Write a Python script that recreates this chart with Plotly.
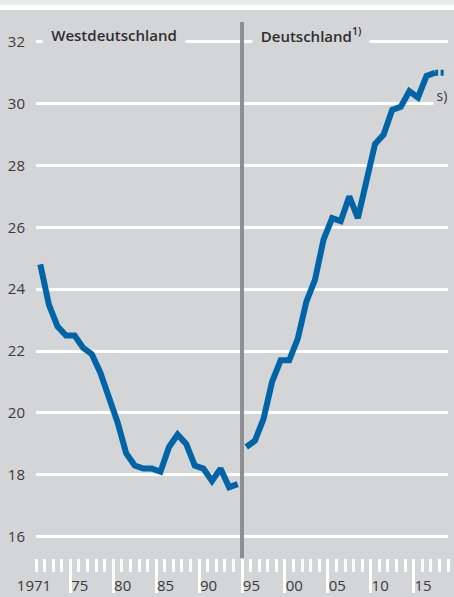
import plotly.graph_objects as go

# ---------------- data ----------------
west_years = list(range(1971, 1995))
west_values = [24.8, 23.5, 22.8, 22.5, 22.5, 22.1, 21.9, 21.3, 20.5, 19.7, 18.7, 18.3,
               18.2, 18.2, 18.1, 18.9, 19.3, 19.0, 18.3, 18.2, 17.8, 18.2, 17.6, 17.7]

de_years = list(range(1995, 2019))
de_values = [18.9, 19.1, 19.8, 21.0, 21.7, 21.7, 22.4, 23.6, 24.3, 25.6, 26.3, 26.2,
             27.0, 26.3, 27.5, 28.7, 29.0, 29.8, 29.9, 30.4, 30.2, 30.9, 31.0, 31.0]
estimated_from = 2017  # last segment is an estimate ("s)")

y_ticks = [16, 18, 20, 22, 24, 26, 28, 30, 32]
major_tick_years = [1975, 1980, 1985, 1990, 1995, 2000, 2005, 2010, 2015]
grid_years = [1985, 2000, 2015]
label_years = [1975, 1980, 1985, 1990, 1995, 2000, 2005, 2010, 2015]
label_texts = ["75", "80", "85", "90", "95", "00", "05", "10", "15"]
first_label_year = 1971
first_label_text = "1971"
break_year = 1995
x_range = [1971, 2019]
y_range = [15.31, 32.64]

# ---------------- style ----------------
BG = "#d4d5d7"
BLUE = "#0064a6"
SEP = "#8e8f93"
TXT = "#3a3a3a"
FONT = "Open Sans, sans-serif"

mid = 0.5  # values plotted at mid-year

fig = go.Figure()
fig.add_trace(go.Scatter(x=[y + mid for y in west_years], y=west_values, mode="lines",
                         line=dict(color=BLUE, width=6), hoverinfo="skip", showlegend=False))
solid_idx = [i for i, y in enumerate(de_years) if y <= estimated_from]
est_idx = [i for i, y in enumerate(de_years) if y >= estimated_from]
fig.add_trace(go.Scatter(x=[de_years[i] + mid for i in solid_idx], y=[de_values[i] for i in solid_idx],
                         xaxis="x2", mode="lines", line=dict(color=BLUE, width=6),
                         hoverinfo="skip", showlegend=False))
fig.add_trace(go.Scatter(x=[de_years[i] + mid for i in est_idx], y=[de_values[i] for i in est_idx],
                         xaxis="x4", mode="lines", line=dict(color=BLUE, width=6, dash="3px,2.5px"),
                         hoverinfo="skip", showlegend=False))

common = dict(range=x_range, zeroline=False, showline=False, automargin=False, fixedrange=True)

fig.update_layout(
    width=454, height=597,
    margin=dict(l=36, r=6, t=22, b=39, autoexpand=False),
    paper_bgcolor=BG, plot_bgcolor=BG,
    font=dict(family=FONT, size=15, color=TXT),
    xaxis=dict(tickmode="array", tickvals=major_tick_years,
               ticks="outside", ticklen=34, tickwidth=3, tickcolor="white",
               showticklabels=False, showgrid=False,
               minor=dict(tickmode="linear", tick0=1971, dtick=1, ticks="outside",
                          ticklen=13, tickwidth=3, tickcolor="white", showgrid=False),
               **common),
    xaxis2=dict(overlaying="x", anchor="y", side="bottom",
                tickmode="array", tickvals=[y + 1.1 for y in label_years], ticktext=label_texts,
                ticks="", showgrid=False, ticklabelstandoff=17,
                tickfont=dict(size=15, color=TXT), **common),
    xaxis4=dict(overlaying="x", anchor="y", side="bottom",
                tickmode="array", tickvals=[first_label_year], ticktext=[first_label_text],
                ticks="", showgrid=False, ticklabelstandoff=17, ticklabelshift=-2,
                tickfont=dict(size=15, color=TXT), **common),
    xaxis3=dict(overlaying="x", anchor="y", tickmode="array", tickvals=grid_years,
                showgrid=True, gridcolor="white", gridwidth=3, showticklabels=False,
                ticks="", **common),
    yaxis=dict(range=y_range, tickmode="array", tickvals=y_ticks, showgrid=True,
               gridcolor="white", gridwidth=3, zeroline=False, showline=False, ticks="",
               ticklabelstandoff=10, tickfont=dict(size=15, color=TXT), fixedrange=True,
               automargin=False),
)

# separator between West Germany and Germany
fig.add_shape(type="line", xref="x", yref="paper", x0=break_year, x1=break_year, y0=0, y1=1,
              line=dict(color=SEP, width=4), layer="above")

# top strip of the page
pw = 412.0
ph = 536.0
fig.add_shape(type="rect", xref="paper", yref="paper", x0=-36 / pw, x1=1 + 6 / pw,
              y0=1 + 12 / ph, y1=1 + 17 / ph, fillcolor="white", line=dict(width=0), layer="above")
fig.add_shape(type="rect", xref="paper", yref="paper", x0=-36 / pw, x1=1 + 6 / pw,
              y0=1 + 17 / ph, y1=1 + 22 / ph, fillcolor="#ebecee", line=dict(width=0), layer="above")

head_font = dict(size=15, color="#2e2e2e", weight=600)
fig.add_annotation(text="Westdeutschland", xref="paper", yref="paper",
                   x=(114 - 36) / pw, y=1 - (35 - 22) / ph, xanchor="center", yanchor="middle",
                   showarrow=False, bgcolor=BG, borderpad=0, width=142, height=26,
                   font=head_font)
fig.add_annotation(text="Deutschland<sup>1)</sup>", xref="paper", yref="paper",
                   x=(311 - 36) / pw, y=1 - (35 - 22) / ph, xanchor="center", yanchor="middle",
                   showarrow=False, bgcolor=BG, borderpad=0, width=116, height=26,
                   font=head_font)
fig.add_annotation(text="s)", xref="paper", yref="paper",
                   x=(442 - 36) / pw, y=1 - (95 - 22) / ph, xanchor="center", yanchor="middle",
                   showarrow=False, bgcolor=BG, borderpad=0, width=16, height=24,
                   font=dict(size=14, color=TXT))

fig.write_html("out.html", config={"displayModeBar": False},
               post_script="document.body.style.margin='0';document.body.style.padding='0';")
